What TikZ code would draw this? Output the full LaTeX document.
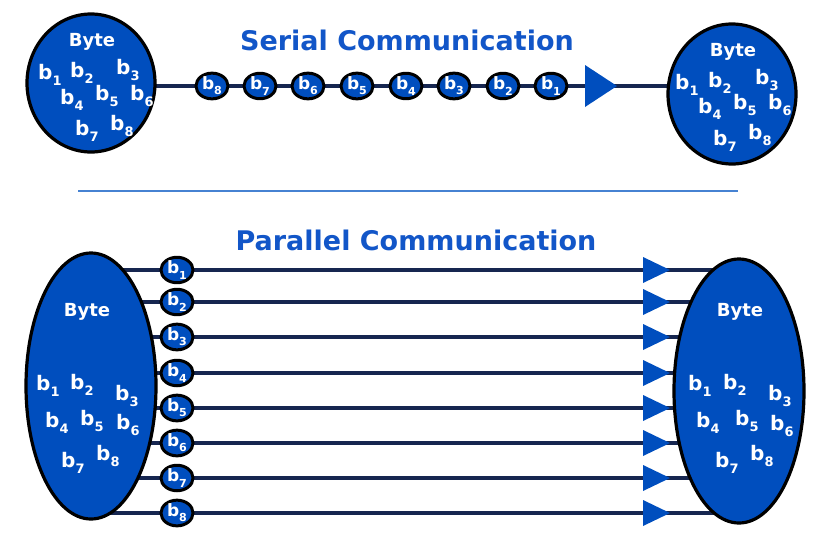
\documentclass[tikz,border=0pt]{standalone}
\usepackage{fontspec}
\setmainfont{DejaVu Sans}
\usetikzlibrary{shapes.geometric,backgrounds}
\definecolor{fillblue}{RGB}{0,78,190}
\definecolor{titleblue}{RGB}{18,86,200}
\definecolor{wirenavy}{RGB}{22,38,80}
\definecolor{sepblue}{RGB}{70,130,210}
\newcommand\bsub[1]{b\raisebox{-0.3em}{\scalebox{0.65}{#1}}}
\begin{document}
\begin{tikzpicture}[x=1pt,y=-1pt,
  bigell/.style={ellipse, draw=black, line width=3.2pt, fill=fillblue, inner sep=0},
  bitell/.style={ellipse, draw=black, line width=3pt, fill=fillblue, minimum width=32, minimum height=25, inner sep=0, text=white, font=\fontsize{17}{17}\selectfont\bfseries},
  lbl/.style={text=white, font=\fontsize{20}{20}\selectfont\bfseries, inner sep=0, anchor=base west},
  bytelbl/.style={text=white, font=\fontsize{18}{18}\selectfont\bfseries, inner sep=0},
  title/.style={text=titleblue, font=\fontsize{27}{27}\selectfont\bfseries, inner sep=0},
  wire/.style={draw=wirenavy, line width=4pt},
  tri/.style={fill=fillblue}]
\useasboundingbox (0,0) rectangle (829,538);

% titles and separator
\node[title] (tS) at (407,40) {Serial Communication};
\node[title] (tP) at (416,240) {Parallel Communication};
\coordinate (sepA) at (78,191);
\coordinate (sepB) at (738,191);
\draw[sepblue, line width=2.5pt] (sepA) -- (sepB);

% ---------- serial ----------
\node[bigell, minimum width=128, minimum height=138] (sL) at (91,83) {};
\node[bigell, minimum width=128, minimum height=140] (sR) at (732,94) {};
\foreach \n/\x in {8/212,7/260,6/308,5/357,4/406,3/454,2/503,1/551}
  \node[bitell] (sb\n) at (\x,86) {\bsub{\n}};
\coordinate (sArr) at (585,86);
\fill[tri] (sArr) ++(0,-21) -- ++(32,21) -- ++(-32,21) -- cycle;
\begin{pgfonlayer}{background}
  \draw[wire] (sL.center |- sb1) -- (sR.center |- sb1);
\end{pgfonlayer}

\begin{scope}[shift={(91,83)}]
  \node[bytelbl] (sLbyte) at (1,-41) {Byte};
  \foreach \n/\dx/\dy in {1/-46/-11,2/-14/-13,3/32/-16,4/-24/14,5/11/10,6/46/10,7/-9/45,8/26/40}
    \node[lbl] (sLb\n) at (\dx-7,\dy+7.5) {\bsub{\n}};
\end{scope}
\begin{scope}[shift={(732,94)}]
  \node[bytelbl] (sRbyte) at (1,-42) {Byte};
  \foreach \n/\dx/\dy in {1/-50/-12,2/-17/-14,3/30/-17,4/-27/12,5/8/8,6/43/8,7/-12/44,8/23/38}
    \node[lbl] (sRb\n) at (\dx-7,\dy+7.5) {\bsub{\n}};
\end{scope}

% ---------- parallel ----------
\node[bigell, minimum width=130, minimum height=266] (pL) at (91,386) {};
\node[bigell, minimum width=130, minimum height=264] (pR) at (739,391) {};
\foreach \i/\y in {1/270,2/302,3/337,4/373,5/408,6/443,7/478,8/513}{
  \node[bitell] (pb\i) at (177,\y) {\bsub{\i}};
  \coordinate (pa\i) at (643,\y);
  \fill[tri] (pa\i) ++(0,-13) -- ++(27,13) -- ++(-27,13) -- cycle;
}
\begin{pgfonlayer}{background}
  \foreach \i in {1,...,8}
    \draw[wire] (pL.center |- pb\i) -- (pR.center |- pb\i);
\end{pgfonlayer}

\begin{scope}[shift={(91,386)}]
  \node[bytelbl] (pLbyte) at (-4,-74) {Byte};
  \foreach \n/\dx/\dy in {1/-48/-3,2/-14/-4,3/31/7,4/-39/34,5/-4/32,6/32/36,7/-23/74,8/12/67}
    \node[lbl] (pLb\n) at (\dx-7,\dy+7.5) {\bsub{\n}};
\end{scope}
\begin{scope}[shift={(739,391)}]
  \node[bytelbl] (pRbyte) at (1,-79) {Byte};
  \foreach \n/\dx/\dy in {1/-44/-8,2/-9/-9,3/36/2,4/-36/29,5/3/27,6/38/32,7/-17/69,8/18/62}
    \node[lbl] (pRb\n) at (\dx-7,\dy+7.5) {\bsub{\n}};
\end{scope}
\end{tikzpicture}
\end{document}
